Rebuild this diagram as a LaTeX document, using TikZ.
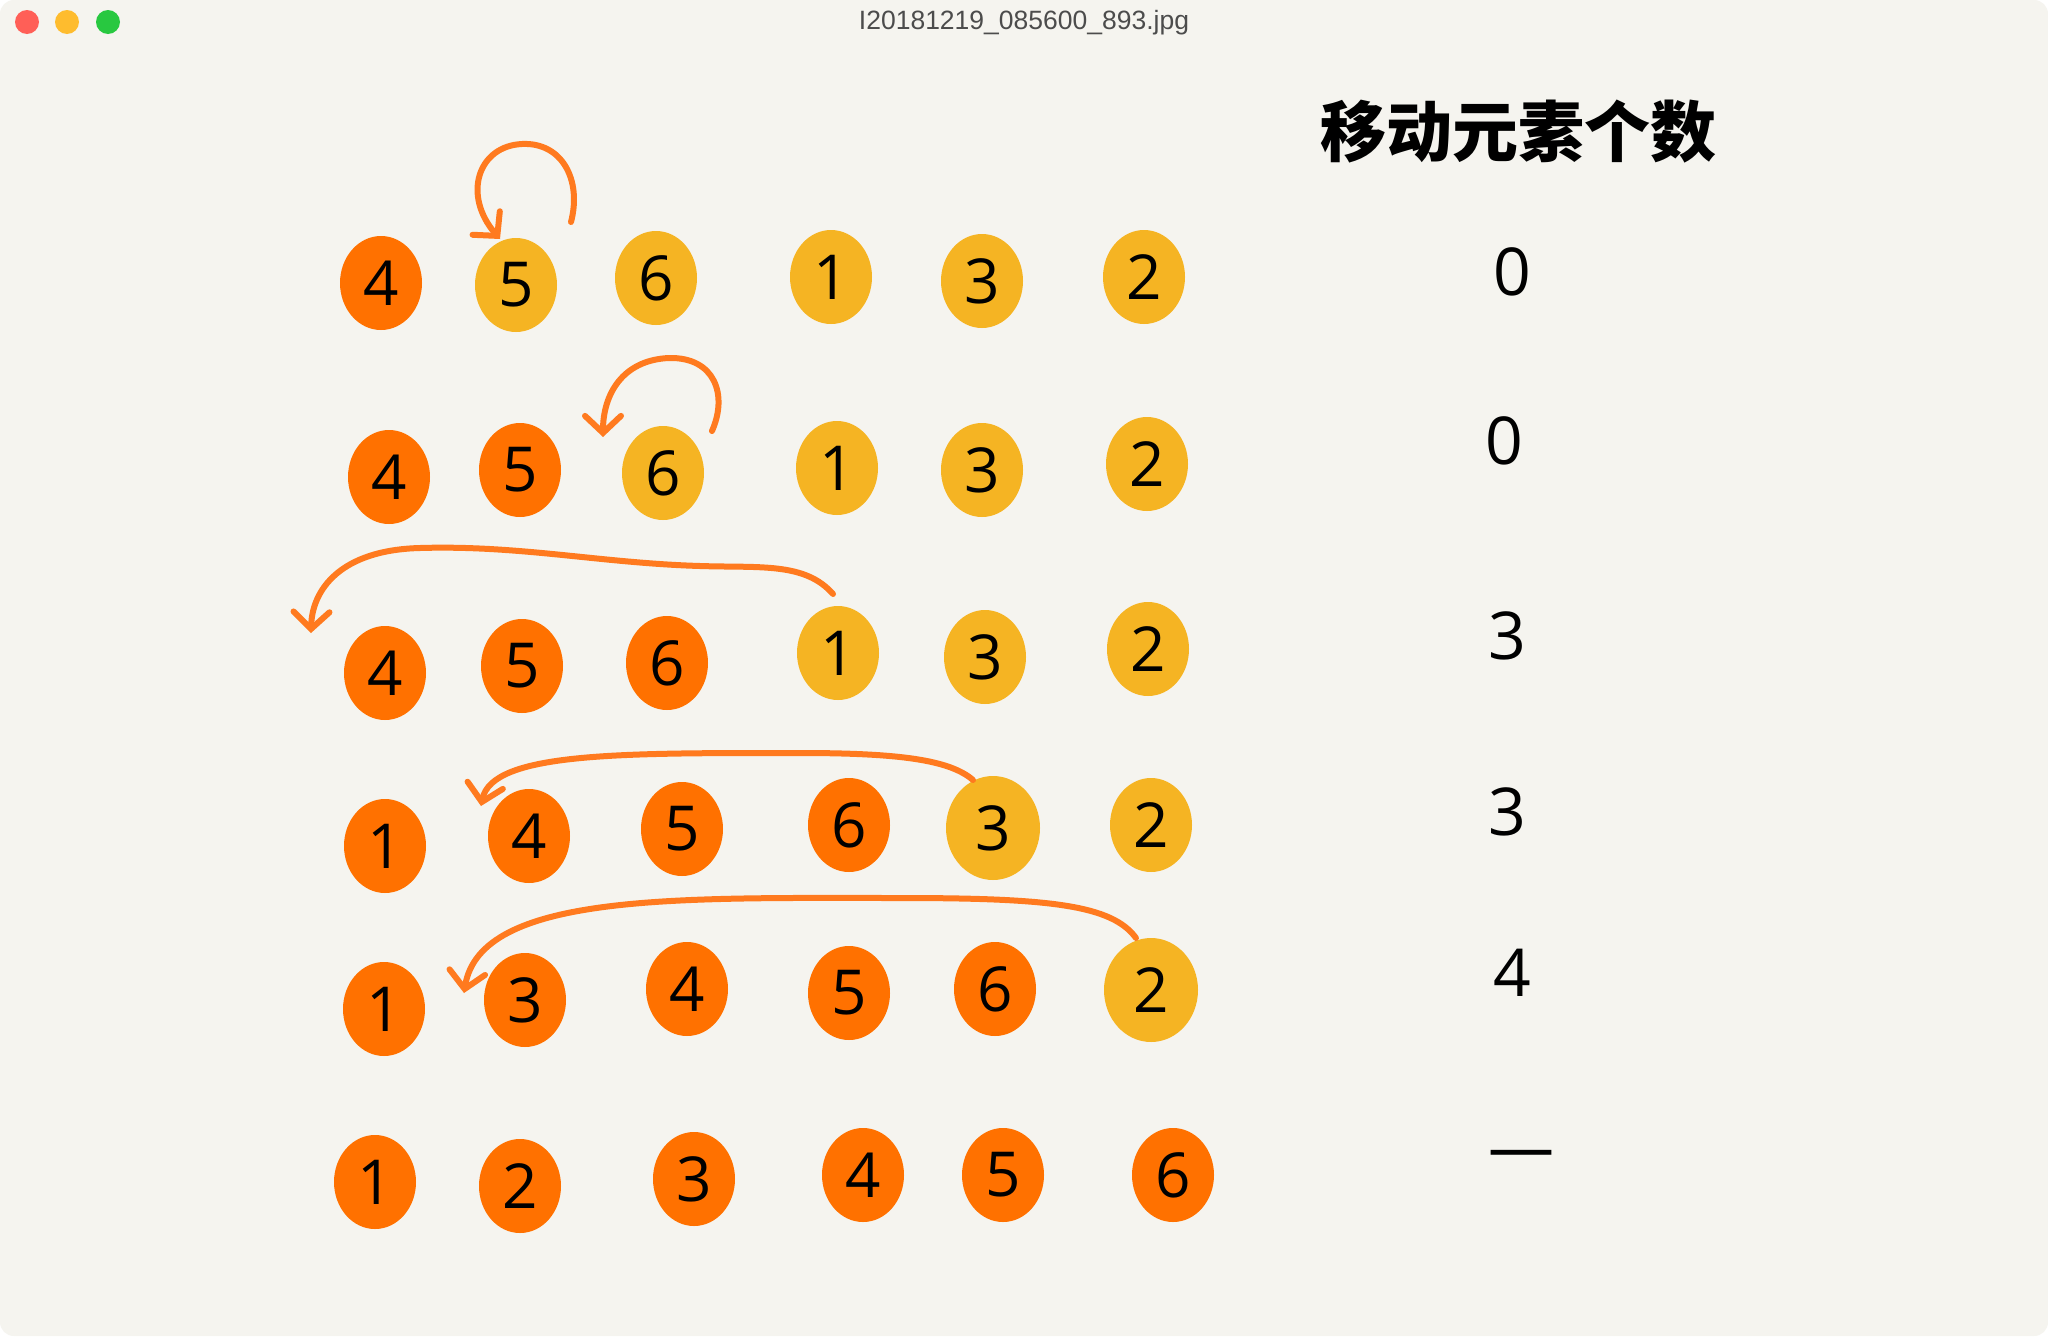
\documentclass[tikz,border=0pt]{standalone}
\usepackage{fontspec}
\setmainfont{Open Sans}
\newfontfamily\titlefont{Liberation Sans}
\newfontfamily\cjk{Noto Sans CJK SC}
\usetikzlibrary{shapes.geometric,arrows.meta}
\definecolor{paper}{HTML}{F5F4EF}
\definecolor{ballo}{HTML}{FF7100}
\definecolor{bally}{HTML}{F5B423}
\definecolor{mvline}{HTML}{FF7A1F}
\begin{document}
\begin{tikzpicture}[x=1pt,y=1pt,
    ball/.style={ellipse,inner sep=0pt,minimum width=82pt,minimum height=94pt,
      font=\fontsize{62}{70}\selectfont},
    ob/.style={ball,fill=ballo},
    yb/.style={ball,fill=bally},
    ybig/.style={ball,fill=bally,minimum width=94pt,minimum height=104pt},
    cnt/.style={font=\fontsize{66}{70}\selectfont},
    mv/.style={mvline,line width=6pt,line cap=round,
      -{Straight Barb[length=17pt,width=36pt,line cap=round]}},
    lamp/.style={circle,inner sep=0pt,minimum size=24pt}]
  % window
  \useasboundingbox (0,0) rectangle (2048,-1336);
  \fill[white] (0,0) rectangle (2048,-1336);
  \fill[paper,rounded corners=14pt] (0,0) rectangle (2048,-1336);
  \node[lamp,fill={rgb,255:red,255;green,95;blue,87}] (lr) at (27,-22) {};
  \node[lamp,fill={rgb,255:red,254;green,188;blue,46}] (ly) at (67,-22) {};
  \node[lamp,fill={rgb,255:red,40;green,200;blue,64}] (lg) at (108,-22) {};
  \node[font=\titlefont\fontsize{26.5}{30}\selectfont,text=black!70] (ttl) at (1024,-23)
    {I20181219\_085600\_893.jpg};
  % header
  \node[font=\cjk\bfseries\fontsize{66}{70}\selectfont] (hd) at (1518,-132) {移动元素个数};
  % row 1
  \foreach \i/\x/\y/\v/\s in {1/381/283/4/ob, 2/516/285/5/yb, 3/656/278/6/yb,
      4/831/277/1/yb, 5/982/281/3/yb, 6/1144/277/2/yb}{
    \node[\s] (b1\i) at (\x,-\y) {\v};
  }
  % row 2
  \foreach \i/\x/\y/\v/\s in {1/389/477/4/ob, 2/520/470/5/ob, 3/663/473/6/yb,
      4/837/468/1/yb, 5/982/470/3/yb, 6/1147/464/2/yb}{
    \node[\s] (b2\i) at (\x,-\y) {\v};
  }
  % row 3
  \foreach \i/\x/\y/\v/\s in {1/385/673/4/ob, 2/522/666/5/ob, 3/667/663/6/ob,
      4/838/653/1/yb, 5/985/657/3/yb, 6/1148/649/2/yb}{
    \node[\s] (b3\i) at (\x,-\y) {\v};
  }
  % row 4
  \foreach \i/\x/\y/\v/\s in {1/385/846/1/ob, 2/529/836/4/ob, 3/682/829/5/ob,
      4/849/825/6/ob, 5/993/828/3/ybig, 6/1151/825/2/yb}{
    \node[\s] (b4\i) at (\x,-\y) {\v};
  }
  % row 5
  \foreach \i/\x/\y/\v/\s in {1/384/1009/1/ob, 2/525/1000/3/ob, 3/687/989/4/ob,
      4/849/993/5/ob, 5/995/989/6/ob, 6/1151/990/2/ybig}{
    \node[\s] (b5\i) at (\x,-\y) {\v};
  }
  % row 6
  \foreach \i/\x/\y/\v in {1/375/1182/1, 2/520/1186/2, 3/694/1179/3,
      4/863/1175/4, 5/1003/1175/5, 6/1173/1175/6}{
    \node[ob] (b6\i) at (\x,-\y) {\v};
  }
  % moved elements
  \foreach \i/\x/\y/\v in {1/1512/272/0, 2/1504/441/0, 3/1507/636/3,
      4/1507/812/3, 5/1512/973/4, 6/1521/1160/—}{
    \node[cnt] (c\i) at (\x,-\y) {\v};
  }
  % insertion arrows
  \draw[mv] ([xshift=55pt,yshift=63pt]b12.center) .. controls (582,-180) and (562,-142) .. (522,-144)
    .. controls (478,-146) and (462,-195) .. ([xshift=-16pt,yshift=46pt]b12.center);
  \draw[mv] ([xshift=49pt,yshift=42pt]b23.center) .. controls (728,-395) and (715,-357) .. (669,-358)
    .. controls (622,-360) and (603,-395) .. ([xshift=-60pt,yshift=36pt]b23.center);
  \draw[mv] ([xshift=-5pt,yshift=59pt]b34.center) .. controls (805,-562) and (760,-568) .. (700,-566)
    .. controls (600,-563) and (520,-545) .. (420,-548)
    .. controls (340,-550) and (312,-590) .. ([xshift=-74pt,yshift=40pt]b31.center);
  \draw[mv] ([xshift=-20pt,yshift=48pt]b45.center) .. controls (950,-760) and (900,-753) .. (800,-753)
    .. controls (620,-753) and (492,-752) .. ([xshift=-48pt,yshift=30pt]b42.center);
  \draw[mv] ([xshift=-15pt,yshift=52pt]b56.center) .. controls (1112,-905) and (1050,-898) .. (900,-898)
    .. controls (680,-898) and (480,-892) .. ([xshift=-61pt,yshift=7pt]b52.center);
\end{tikzpicture}
\end{document}
